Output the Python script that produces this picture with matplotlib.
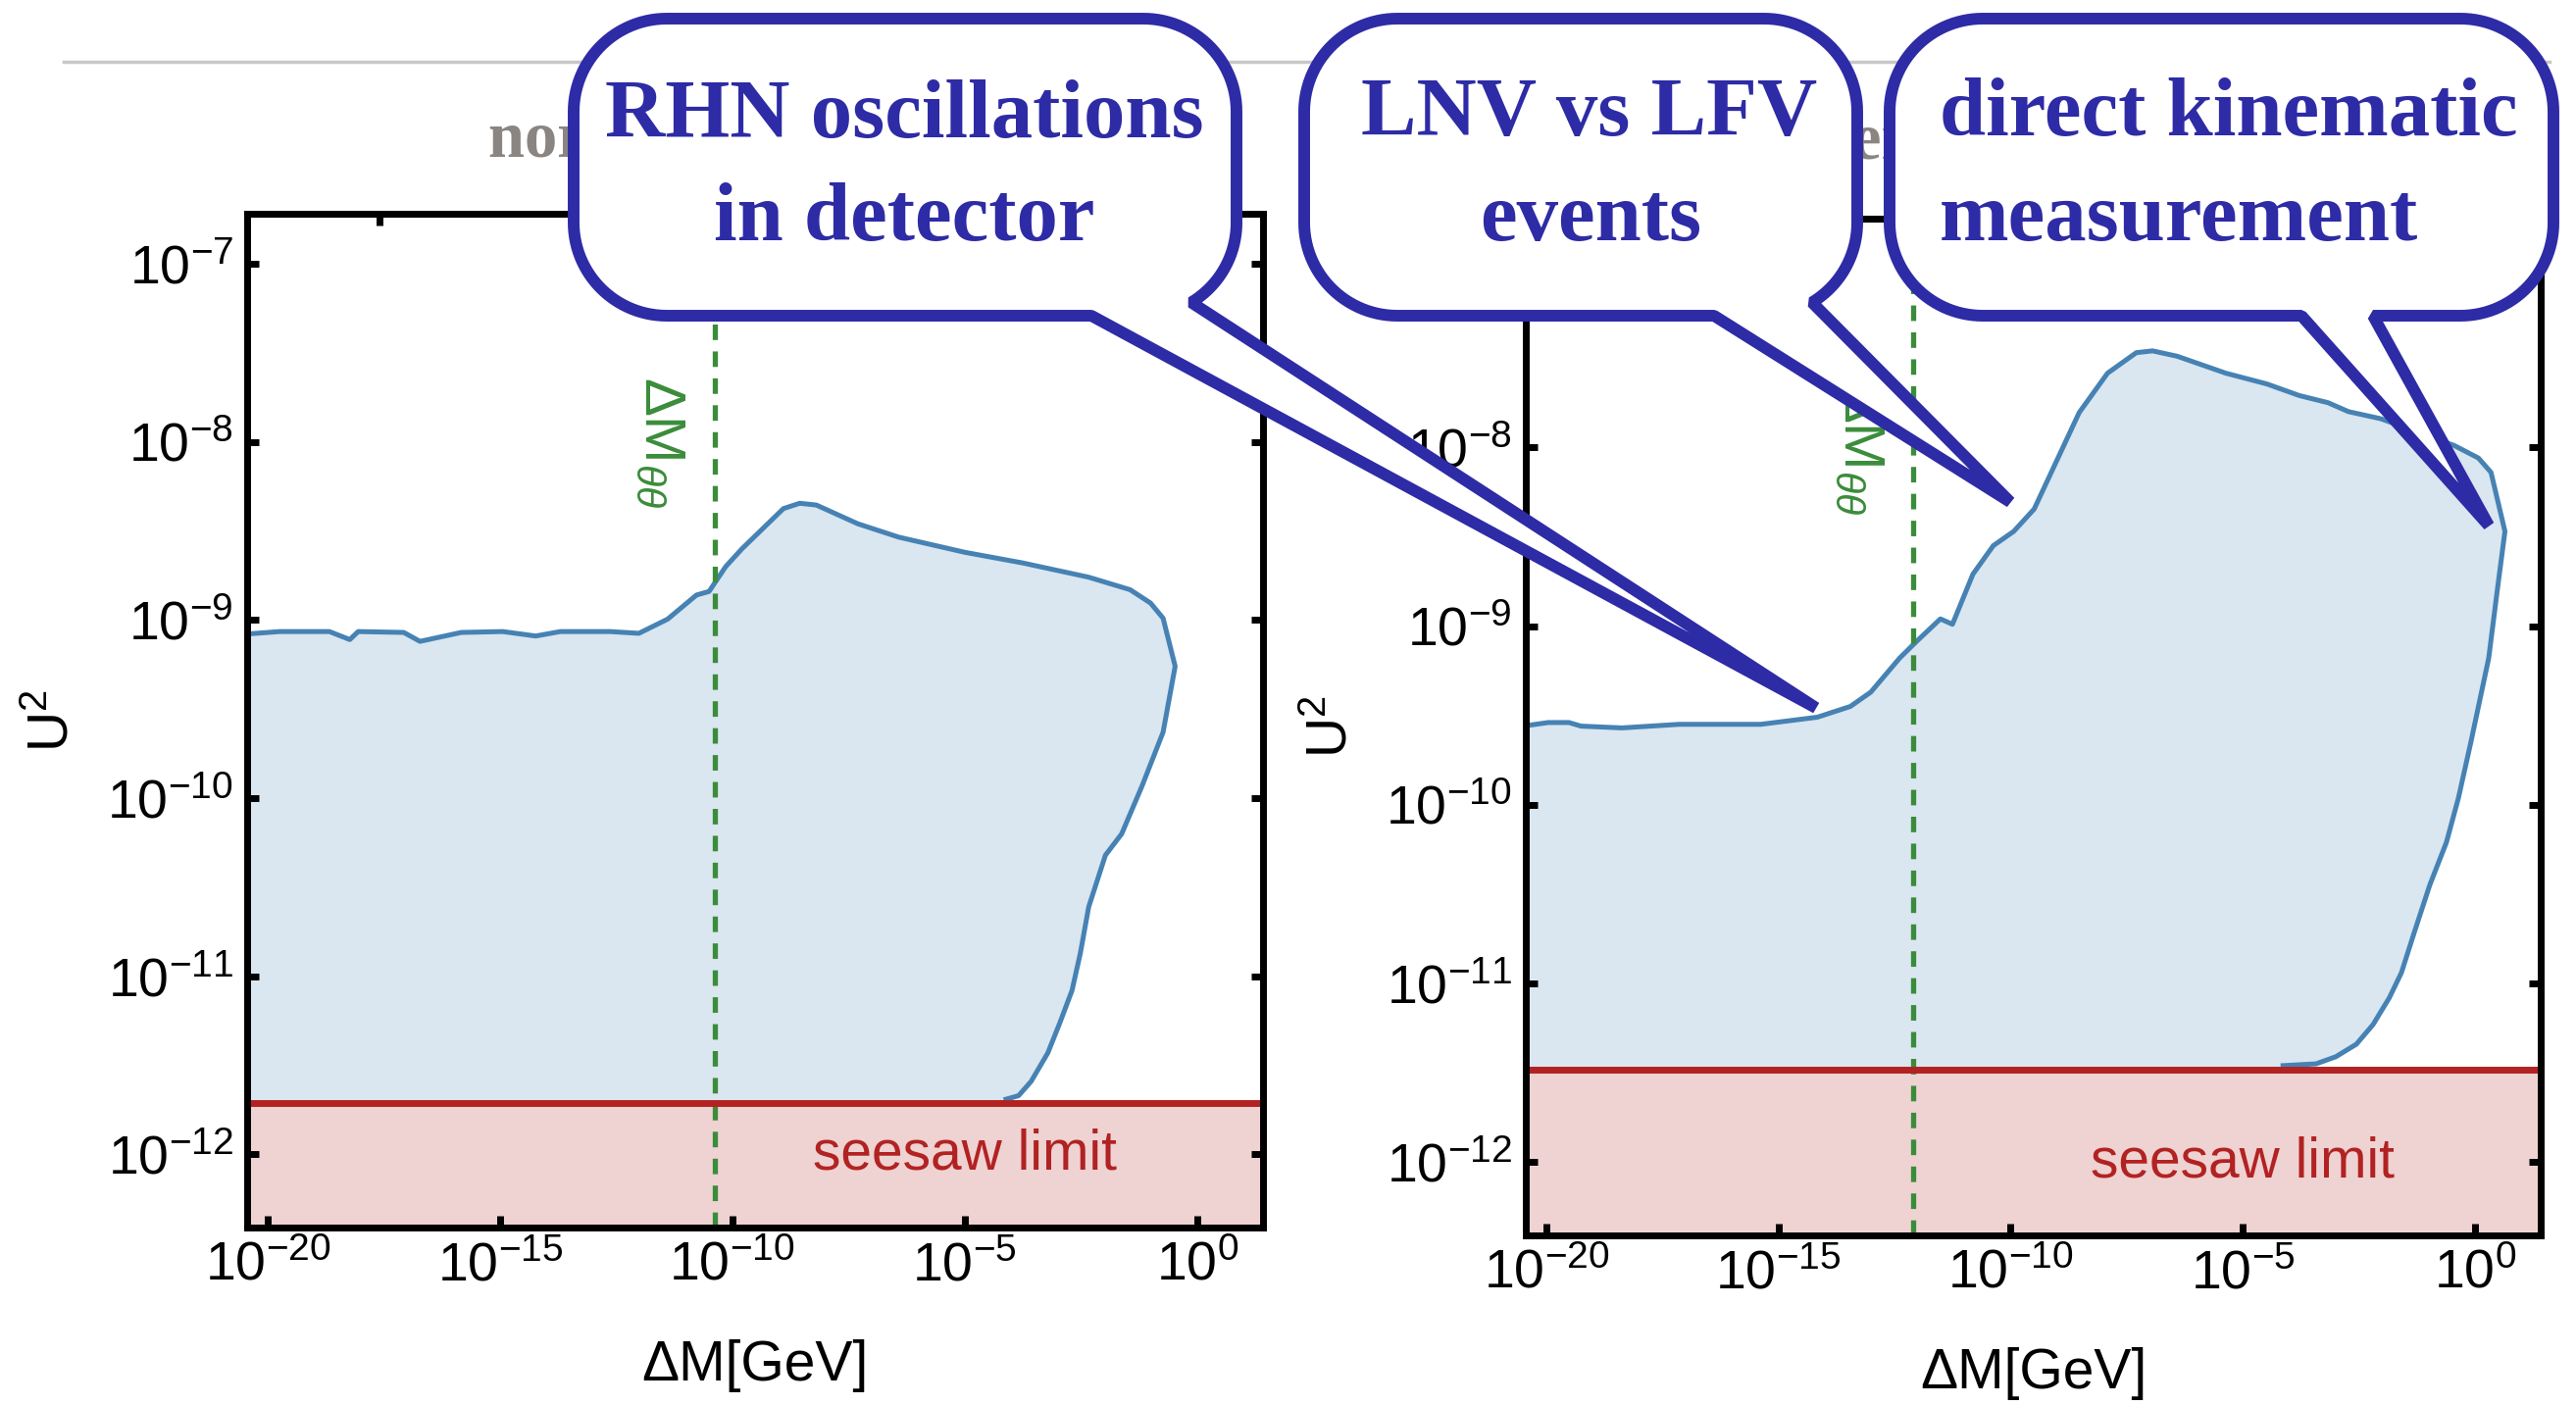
import numpy as np
import matplotlib.pyplot as plt
from matplotlib.path import Path
from matplotlib.patches import PathPatch
from matplotlib.ticker import NullLocator

plt.rcParams['font.family'] = ['Liberation Sans', 'DejaVu Sans']
plt.rcParams['mathtext.fontset'] = 'custom'
plt.rcParams['mathtext.rm'] = 'Liberation Sans'
plt.rcParams['mathtext.it'] = 'Liberation Sans:italic'
plt.rcParams['mathtext.bf'] = 'Liberation Sans:bold'

# sensitivity region boundary, log10(dM/GeV) vs log10(U^2)
no_logdm = [-20.5, -19.74, -18.67, -18.23, -18.05, -17.07, -16.72, -15.83, -14.94, -14.23,
            -13.70, -12.63, -12.01, -11.39, -10.77, -10.50, -10.14, -9.79, -8.90, -8.55,
            -8.19, -7.30, -6.42, -5.00, -3.75, -2.33, -1.44, -1.00, -0.73, -0.47,
            -0.73, -1.18, -1.62, -1.97, -2.33, -2.51, -2.69, -2.95, -3.21, -3.57, -3.84, -4.11]
no_logu2 = [-9.08, -9.065, -9.065, -9.11, -9.065, -9.07, -9.12, -9.07, -9.065, -9.09,
            -9.065, -9.065, -9.075, -8.995, -8.86, -8.84, -8.70, -8.60, -8.375, -8.345,
            -8.355, -8.46, -8.535, -8.62, -8.68, -8.76, -8.83, -8.905, -8.99, -9.26,
            -9.63, -9.93, -10.20, -10.32, -10.61, -10.87, -11.08, -11.26, -11.43, -11.59, -11.67, -11.69]

io_logdm = [-20.5, -19.96, -19.51, -19.25, -18.37, -17.14, -16.61, -15.38, -14.16, -13.45,
            -13.01, -12.39, -12.04, -11.51, -11.25, -10.81, -10.37, -9.93, -9.49, -9.05,
            -8.52, -7.91, -7.29, -6.94, -6.41, -5.36, -4.48, -3.78, -3.16, -2.72,
            -2.02, -0.44, 0.08, 0.35, 0.65, 0.48, 0.30, -0.08, -0.35, -0.61,
            -0.97, -1.31, -1.58, -1.84, -2.19, -2.55, -2.99, -3.42, -4.13]
io_logu2 = [-9.56, -9.54, -9.54, -9.56, -9.57, -9.55, -9.55, -9.55, -9.51, -9.45,
            -9.37, -9.18, -9.09, -8.96, -8.99, -8.71, -8.55, -8.47, -8.345, -8.10,
            -7.805, -7.585, -7.47, -7.46, -7.49, -7.585, -7.645, -7.71, -7.75, -7.80,
            -7.84, -7.99, -8.06, -8.14, -8.47, -8.81, -9.18, -9.645, -9.96, -10.21,
            -10.45, -10.72, -10.94, -11.08, -11.23, -11.34, -11.41, -11.45, -11.46]

seesaw = [10**-11.71, 10**-11.48]
dm_thth = [10**-10.37, 10**-12.1]
label_pos = [(10**-11.55, 10**-8.0), (10**-13.25, 10**-8.01)]

xticks = [1e-20, 1e-15, 1e-10, 1e-5, 1e0]
xlabels = ['$10^{-20}$', '$10^{-15}$', '$10^{-10}$', '$10^{-5}$', '$10^{0}$']
yticks = [1e-12, 1e-11, 1e-10, 1e-9, 1e-8, 1e-7]
ylabels = ['$10^{-12}$', '$10^{-11}$', '$10^{-10}$', '$10^{-9}$', '$10^{-8}$', '$10^{-7}$']
top_ticks = [10**-17.6, 10**-12.6, 10**-7.6, 10**-2.6]
titles = ['normal ordering', 'inverted ordering']

green = '#3a8c3a'
blue = '#2e2ba6'

W, H = 2627, 1433
fig = plt.figure(figsize=(W / 100, H / 100), dpi=100)
ax1 = fig.add_axes([252 / W, 1 - 1252 / H, 1036 / W, 1034 / H])
ax2 = fig.add_axes([1556 / W, 1 - 1260 / H, 1035 / W, 1037 / H])


def panel(ax, logdm, logu2, limit, dmline, lpos):
    dm = 10 ** np.array(logdm)
    u2 = 10 ** np.array(logu2)
    ax.set_xscale('log')
    ax.set_yscale('log')
    ax.fill(np.r_[dm, dm[-1], 1e-21], np.r_[u2, limit, limit],
            color='steelblue', alpha=0.2, lw=0)
    ax.plot(dm, u2, color='steelblue', lw=3.6)
    ax.axvline(dmline, color=green, lw=3.8, ls=(0, (3.0, 2.2)))
    ax.axhspan(1e-14, limit, color='firebrick', alpha=0.2, lw=0)
    ax.axhline(limit, color='firebrick', lw=5)
    ax.text(1e-5, 1e-12, 'seesaw limit', color='firebrick', fontsize=41,
            ha='center', va='center')
    ax.text(lpos[0], lpos[1], r'$\Delta\mathrm{M}_{\theta\theta}$', color=green,
            fontsize=42, rotation=-90, ha='center', va='center')

    ax.set_xlim(10**-20.44, 10**1.42)
    ax.set_ylim(10**-12.41, 10**-6.72)
    ax.set_xticks(xticks)
    ax.set_xticklabels(xlabels)
    ax.set_yticks(yticks)
    ax.set_yticklabels(ylabels)
    ax.xaxis.set_minor_locator(NullLocator())
    ax.yaxis.set_minor_locator(NullLocator())
    ax.tick_params(which='major', direction='in', length=8.6, width=5,
                   labelsize=40, pad=10, right=True, top=False)
    for s in ax.spines.values():
        s.set_linewidth(5)

    sec = ax.secondary_xaxis('top')
    sec.set_xticks(top_ticks)
    sec.xaxis.set_minor_locator(NullLocator())
    sec.tick_params(direction='in', length=8.6, width=5, labeltop=False)
    sec.spines['top'].set_linewidth(5)

    ax.set_xlabel('ΔM[GeV]', fontsize=41)
    ax.set_ylabel(r'$\mathrm{U}^{2}$', fontsize=41)
    ax.yaxis.set_label_coords(-0.165, 0.5)
    ax.xaxis.set_label_coords(0.5, -0.11)


panel(ax1, no_logdm, no_logu2, seesaw[0], dm_thth[0], label_pos[0])
panel(ax2, io_logdm, io_logu2, seesaw[1], dm_thth[1], label_pos[1])

# overlay for the header line, titles and speech bubbles (pixel coords)
ov = fig.add_axes([0, 0, 1, 1], zorder=10)
ov.set_xlim(0, W)
ov.set_ylim(H, 0)
ov.axis('off')
ov.plot([65, 2600], [63, 63], color='#c8c8c8', lw=2.5, zorder=1)
ov.text(498, 160, titles[0], fontsize=48, family='Liberation Serif', weight='bold',
        color='#8a8580', va='baseline', zorder=1)
ov.text(1800, 162, titles[1], fontsize=48, family='Liberation Serif', weight='bold',
        color='#8a8580', va='baseline', zorder=1)


def arc(cx, cy, r, a0, a1):
    t = np.radians(np.linspace(a0, a1, 30))
    return list(zip(cx + r * np.cos(t), cy + r * np.sin(t)))


def bubble(x0, x1, y0, y1, r, left_x, right_att, tip):
    pts = [(left_x, y1), (x0 + r, y1)]
    pts += arc(x0 + r, y1 - r, r, 90, 180)
    pts += arc(x0 + r, y0 + r, r, 180, 270)
    pts += arc(x1 - r, y0 + r, r, 270, 360)
    if right_att[0] == 'arc':
        pts += arc(x1 - r, y1 - r, r, 0, right_att[1])
    else:
        pts += arc(x1 - r, y1 - r, r, 0, 90)
        pts.append((right_att[1], y1))
    pts.append(tip)
    pts.append(pts[0])
    codes = [Path.MOVETO] + [Path.LINETO] * (len(pts) - 2) + [Path.CLOSEPOLY]
    ov.add_patch(PathPatch(Path(pts, codes), facecolor='white', edgecolor=blue,
                           lw=8.6, joinstyle='bevel', zorder=3))


bubble(585, 1261, 19, 322, 95, 1113, ('arc', 59), (1852, 722))
bubble(1330, 1894, 19, 322, 95, 1748, ('arc', 59), (2050, 512))
bubble(1927, 2604, 19, 322, 95, 2347, ('x', 2420), (2538, 536))

tk = dict(fontsize=61, family='Liberation Serif', weight='bold', color=blue,
          va='baseline', zorder=4)
ov.text(922, 140, 'RHN oscillations', ha='center', **tk)
ov.text(922, 245, 'in detector', ha='center', **tk)
ov.text(1621, 138, 'LNV vs LFV', ha='center', **tk)
ov.text(1622, 245, 'events', ha='center', **tk)
ov.text(1978, 138, 'direct kinematic', ha='left', **tk)
ov.text(1978, 245, 'measurement', ha='left', **tk)

fig.savefig('out.png', dpi=100)
